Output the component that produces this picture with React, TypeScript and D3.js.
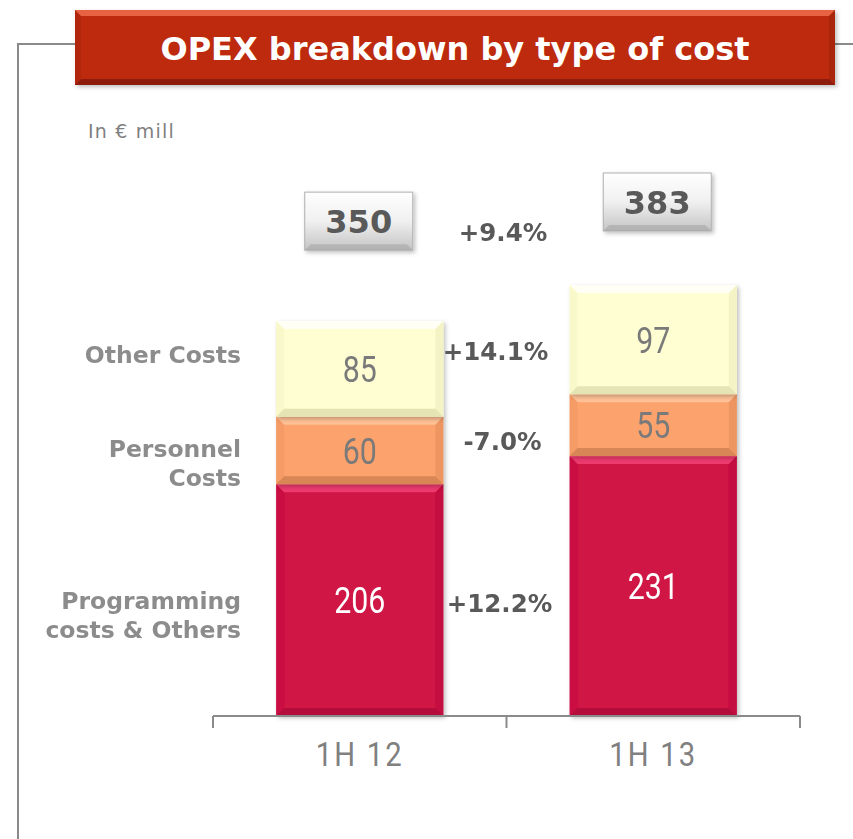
import React from 'react';
import * as d3 from 'd3';

// values, € mill
const periods = ['1H 12', '1H 13'];
const costTypes = ['programming', 'personnel', 'other'];
const programming = [206, 231];
const personnel = [60, 55];
const other = [85, 97];
const totals = [350, 383];
const typeLabels = [['Programming', 'costs & Others'], ['Personnel', 'Costs'], ['Other Costs']];
const growth = ['+12.2%', '-7.0%', '+14.1%'];
const totalGrowth = '+9.4%';

const W = 853;
const H = 839;
const fills = { programming: '#d01245', personnel: '#fca26c', other: '#fefed2' };
const lights = { programming: '#f4457a', personnel: '#ffc9a0', other: '#ffffff' };
const darks = { programming: '#a80d36', personnel: '#c97a4c', other: '#d9d9a8' };
const numFont = 'Roboto, "Liberation Sans", sans-serif';
const boldFont = '"DejaVu Sans", Verdana, sans-serif';

function Bevel({ x, y, w, h, b, fill, light, dark }) {
  const x1 = x + w, y1 = y + h;
  return (
    <g>
      <rect x={x} y={y} width={w} height={h} fill={fill} />
      <polygon points={`${x},${y} ${x1},${y} ${x1 - b},${y + b} ${x + b},${y + b}`} fill={light} opacity={0.8} />
      <polygon points={`${x},${y1} ${x1},${y1} ${x1 - b},${y1 - b} ${x + b},${y1 - b}`} fill={dark} opacity={0.7} />
      <polygon points={`${x},${y} ${x + b},${y + b} ${x + b},${y1 - b} ${x},${y1}`} fill={dark} opacity={0.15} />
      <polygon points={`${x1},${y} ${x1 - b},${y + b} ${x1 - b},${y1 - b} ${x1},${y1}`} fill={dark} opacity={0.3} />
    </g>
  );
}

// narrow numerals: squeeze a regular face horizontally
function NarrowText({ x, y, children, fill, size }) {
  return (
    <text transform={`translate(${x},${y}) scale(0.82,1)`} dy="0.36em" textAnchor="middle" fill={fill}
      fontFamily={numFont} fontSize={size}>{children}</text>
  );
}

export default function App() {
  const x = d3.scaleBand().domain(periods).range([213, 800]).paddingInner(0.43).paddingOuter(0.215);
  const y = d3.scaleLinear().domain([0, 383]).range([716, 285]);

  const rows = periods.map((p, i) => ({ period: p, programming: programming[i], personnel: personnel[i], other: other[i] }));
  const series = d3.stack().keys(costTypes)(rows);

  const mids = series.map(s => s.map(d => (y(d[0]) + y(d[1])) / 2));
  const avgMid = mids.map(m => d3.mean(m));
  const labelNudge = [22, 26, 1];
  const growthNudge = [10, 4, -3];
  const growthShift = [0, 3, -4];
  const gapX = x.range()[0] + x.step() - 7;
  const boxLift = [101, 83];
  const boxShift = [-1, 4];

  return (
    <svg width={W} height={H} style={{ display: 'block', position: 'absolute', left: 0, top: 0 }}>
      <defs>
        <filter id="sh" x="-10%" y="-10%" width="130%" height="130%">
          <feDropShadow dx="2" dy="2" stdDeviation="2" floodColor="#000" floodOpacity="0.25" />
        </filter>
        <linearGradient id="boxg" x1="0" y1="0" x2="0" y2="1">
          <stop offset="0" stopColor="#ffffff" />
          <stop offset="0.5" stopColor="#f0f0f0" />
          <stop offset="1" stopColor="#c4c4c4" />
        </linearGradient>
      </defs>

      <path d="M18,839 V44 H75 M835,44 H853" fill="none" stroke="#8a8a8a" strokeWidth={2} />

      <g filter="url(#sh)">
        <Bevel x={75} y={10} w={760} h={75} b={6} fill="#bd2a0b" light="#f07050" dark="#7a1a05" />
      </g>
      <text x={455} y={60} textAnchor="middle" fill="#fff" fontFamily={boldFont} fontWeight="bold" fontSize={32}>
        OPEX breakdown by type of cost
      </text>

      <text x={88} y={138} fill="#7f7f7f" fontFamily='"DejaVu Sans", sans-serif' fontSize={19} letterSpacing={1.2}>In € mill</text>

      {series.map((s, k) => (
        <g key={s.key} filter="url(#sh)">
          {s.map((d, i) => (
            <Bevel key={i} x={x(periods[i])} y={y(d[1])} w={x.bandwidth()} h={y(d[0]) - y(d[1])} b={8}
              fill={fills[s.key]} light={lights[s.key]} dark={darks[s.key]} />
          ))}
        </g>
      ))}

      {series.map((s, k) =>
        s.map((d, i) => (
          <NarrowText key={`${k}-${i}`} x={x(periods[i]) + x.bandwidth() / 2} y={mids[k][i]}
            fill={s.key === 'programming' ? '#fff' : '#7a7a7a'} size={37}>
            {d.data[s.key]}
          </NarrowText>
        ))
      )}

      {typeLabels.map((lines, k) => (
        <text key={k} x={241} y={avgMid[k] + labelNudge[k] - (lines.length - 1) * 14.5} textAnchor="end"
          fill="#8c8c8c" fontFamily={boldFont} fontWeight="bold" fontSize={23.5}>
          {lines.map((t, j) => (
            <tspan key={j} x={241} dy={j === 0 ? '0.35em' : 29}>{t}</tspan>
          ))}
        </text>
      ))}

      {growth.map((g, k) => (
        <text key={k} x={gapX + growthShift[k]} y={avgMid[k] + growthNudge[k]} dy="0.35em" textAnchor="middle"
          fill="#595959" fontFamily={boldFont} fontWeight="bold" fontSize={24.5}>{g}</text>
      ))}

      {totals.map((t, i) => {
        const cx = x(periods[i]) + x.bandwidth() / 2 + boxShift[i];
        const cy = y(t) - boxLift[i];
        return (
          <g key={i}>
            <g filter="url(#sh)">
              <rect x={cx - 54} y={cy - 29} width={108} height={58} fill="url(#boxg)" stroke="#b0b0b0" />
              <polygon points={`${cx - 54},${cy + 29} ${cx + 54},${cy + 29} ${cx + 48},${cy + 23} ${cx - 48},${cy + 23}`} fill="#a0a0a0" opacity={0.5} />
            </g>
            <text x={cx} y={cy} dy="0.36em" textAnchor="middle" fill="#595959" fontFamily={boldFont} fontWeight="bold" fontSize={32}>{t}</text>
          </g>
        );
      })}
      <text x={503} y={232} dy="0.35em" textAnchor="middle" fill="#595959" fontFamily={boldFont} fontWeight="bold" fontSize={24.5}>{totalGrowth}</text>

      <g stroke="#8a8a8a" strokeWidth={2} fill="none">
        <line x1={213} x2={800} y1={716} y2={716} />
        {[0, 1, 2].map(i => {
          const tx = x.range()[0] + i * x.step();
          return <line key={i} x1={tx} x2={tx} y1={716} y2={728} />;
        })}
      </g>
      {periods.map(p => (
        <text key={p} transform={`translate(${x(p) + x.bandwidth() / 2},766) scale(0.86,1)`} textAnchor="middle"
          fill="#808080" fontFamily={numFont} fontSize={34} letterSpacing={2.5}>{p}</text>
      ))}
    </svg>
  );
}
